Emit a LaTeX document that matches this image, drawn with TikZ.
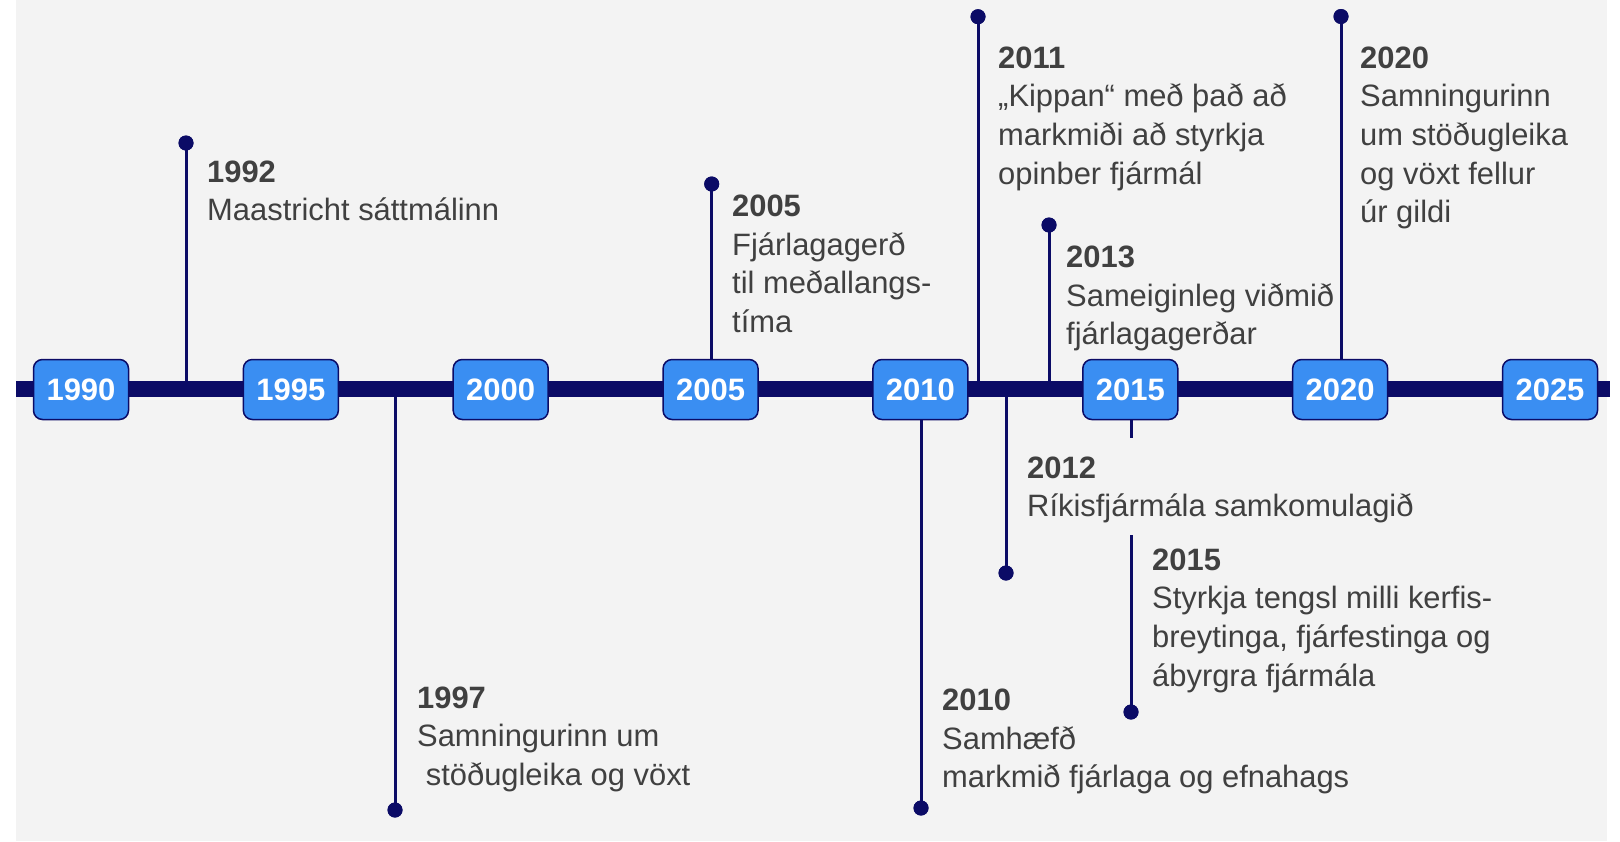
\documentclass[tikz,border=0pt]{standalone}
\usepackage{fontspec}
\setmainfont{Liberation Sans}
\definecolor{bg}{HTML}{F3F3F3}
\definecolor{navy}{HTML}{0B0B66}
\definecolor{boxblue}{HTML}{3A8EF2}
\definecolor{txt}{HTML}{404040}
\begin{document}
\begin{tikzpicture}[x=1pt,y=-1pt,
  yearbox/.style={draw=navy, line width=1.5pt, fill=boxblue, rounded corners=9pt,
    minimum width=95pt, minimum height=60pt, inner sep=0pt, text=white,
    font=\fontsize{31}{31}\selectfont\bfseries},
  stem/.style={navy, line width=3pt},
  bar/.style={navy, line width=16pt},
  evdot/.style={circle, fill=navy, inner sep=0pt, minimum size=15pt},
  evtext/.style={anchor=north west, inner sep=0pt, align=left, text=txt,
    font=\fontsize{30.9}{38.6}\selectfont}
]
\useasboundingbox (0,0) rectangle (1620,841);
\fill[white] (0,0) rectangle (1620,841);
\fill[bg] (16,0) rectangle (1607,841);

% bar end points and stem feet
\coordinate (barL) at (16,388.5);
\coordinate (barR) at (1610,388.5);
\coordinate (f1992) at (186,388.5);
\coordinate (f1997) at (395,388.5);
\coordinate (f2005) at (711.7,388.5);
\coordinate (f2011) at (978,388.5);
\coordinate (f2012) at (1006,388.5);
\coordinate (f2013) at (1049,388.5);
\coordinate (f2020) at (1341,388.5);
\coordinate (s2015a) at (1131,438);
\coordinate (s2015b) at (1131,535);

% dots
\node[evdot] (d1992) at (186,143) {};
\node[evdot] (d1997) at (395,810) {};
\node[evdot] (d2005) at (711.7,184) {};
\node[evdot] (d2010) at (921,808) {};
\node[evdot] (d2011) at (978,16.7) {};
\node[evdot] (d2012) at (1006,573) {};
\node[evdot] (d2013) at (1049,225) {};
\node[evdot] (d2015) at (1131,712) {};
\node[evdot] (d2020) at (1341,16.5) {};

% stems
\draw[stem] (d1992.center) -- (f1992);
\draw[stem] (f1997) -- (d1997.center);
\draw[stem] (d2005.center) -- (f2005);
\draw[stem] (d2011.center) -- (f2011);
\draw[stem] (f2012) -- (d2012.center);
\draw[stem] (d2013.center) -- (f2013);
\draw[stem] (d2020.center) -- (f2020);
\draw[stem] (s2015b) -- (d2015.center);

% bar
\draw[bar] (barL) -- (barR);

% year boxes
\node[yearbox] (y1990) at (81,389.5) {1990};
\node[yearbox] (y1995) at (290.86,389.5) {1995};
\node[yearbox] (y2000) at (500.71,389.5) {2000};
\node[yearbox] (y2005) at (710.57,389.5) {2005};
\node[yearbox] (y2010) at (920.43,389.5) {2010};
\node[yearbox] (y2015) at (1130.29,389.5) {2015};
\node[yearbox] (y2020) at (1340.14,389.5) {2020};
\node[yearbox] (y2025) at (1550,389.5) {2025};

\draw[stem] (y2010.south -| d2010) -- (d2010.center);
\draw[stem] (y2015.south -| s2015a) -- (s2015a);

% redraw dots on top
\foreach \d in {d1992,d1997,d2005,d2010,d2011,d2012,d2013,d2015,d2020}
  \fill[navy] (\d) circle (7.5pt);

% labels
\node[evtext] (t1992) at (207,160.5) {{\bfseries 1992}\\Maastricht sáttmálinn};
\node[evtext] (t1997) at (417,686.5) {{\bfseries 1997}\\Samningurinn um\\\hspace*{0.28em}stöðugleika og vöxt};
\node[evtext] (t2005) at (732,195) {{\bfseries 2005}\\Fjárlagagerð\\til meðallangs-\\tíma};
\node[evtext] (t2010) at (942,689) {{\bfseries 2010}\\Samhæfð\\markmið fjárlaga og efnahags};
\node[evtext] (t2011) at (998,46.5) {{\bfseries 2011}\\„Kippan“ með það að\\markmiði að styrkja\\opinber fjármál};
\node[evtext] (t2012) at (1027,456.5) {{\bfseries 2012}\\Ríkisfjármála samkomulagið};
\node[evtext] (t2013) at (1066,246) {{\bfseries 2013}\\Sameiginleg viðmið\\fjárlagagerðar};
\node[evtext] (t2015) at (1152,548.5) {{\bfseries 2015}\\Styrkja tengsl milli kerfis-\\breytinga, fjárfestinga og\\ábyrgra fjármála};
\node[evtext] (t2020) at (1360,46.5) {{\bfseries 2020}\\Samningurinn\\um stöðugleika\\og vöxt fellur\\úr gildi};
\end{tikzpicture}
\end{document}
